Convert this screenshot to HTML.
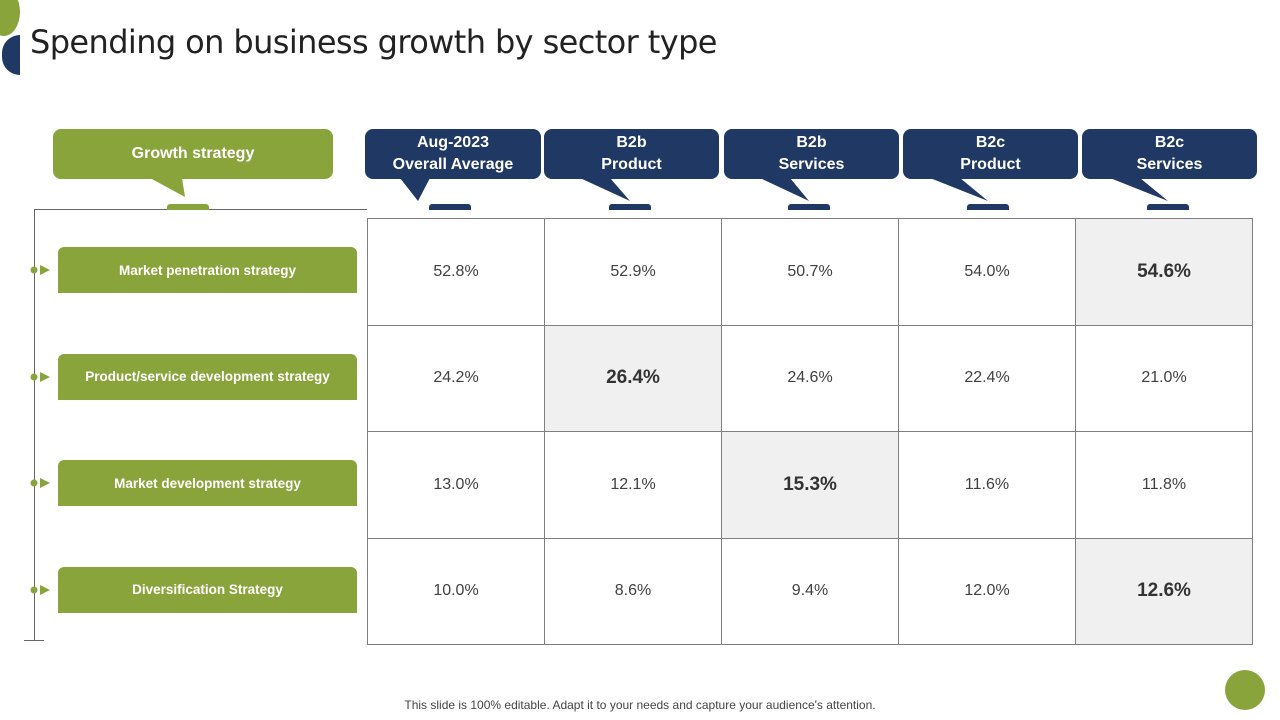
<!DOCTYPE html>
<html><head><meta charset="utf-8"><style>
body{margin:0;width:1280px;height:720px;background:#fff;position:relative;overflow:hidden;font-family:"Liberation Sans",sans-serif}
.a{position:absolute}
.hdr{position:absolute;top:129px;height:50px;border-radius:8px;color:#fff;font-weight:bold;font-size:16px;line-height:22px;display:flex;align-items:center;justify-content:center;text-align:center;font-family:"Liberation Sans",sans-serif}
.navy{background:#203864}.green{background:#8aa43c}
.tab{position:absolute;top:204px;width:42px;height:6px;border-radius:3px 3px 0 0}
.lbl{position:absolute;left:58px;width:299px;height:46px;background:#8aa43c;border-radius:6px 6px 0 0;color:#fff;font-weight:bold;font-size:13.5px;display:flex;align-items:center;justify-content:center;font-family:"Liberation Sans",sans-serif}
.cell{position:absolute;box-sizing:border-box;border:1px solid #7f7f7f;display:flex;align-items:center;justify-content:center;font-size:16px;color:#404040}
.cell.hl{background:#f0f0f0;font-weight:bold;font-size:19px;color:#333}
</style></head><body>
<div class="a" style="left:-12px;top:-12px;width:32px;height:48px;border-radius:50%;background:#8aa43c"></div>
<div class="a" style="left:2px;top:35px;width:18px;height:40px;border-radius:20px 0 0 20px;background:#203864"></div>
<div class="a" style="left:30px;top:23px;font-size:32px;color:#222;font-family:'DejaVu Sans','Liberation Sans',sans-serif;letter-spacing:-0.6px">Spending on business growth by sector type</div>

<svg class="a" style="left:0;top:0" width="1280" height="720">
<polygon points="150,178 182,178 185,197" fill="#8aa43c"/>
<polygon points="400,178 430,178 418,201" fill="#203864"/>
<polygon points="580,178 610,178 630,201" fill="#203864"/>
<polygon points="760,178 790,178 809,201" fill="#203864"/>
<polygon points="930,178 960,178 988,201" fill="#203864"/>
<polygon points="1110,178 1140,178 1168,201" fill="#203864"/>
<line x1="34" y1="209.5" x2="367" y2="209.5" stroke="#666"/>
<line x1="34.5" y1="209" x2="34.5" y2="640" stroke="#666"/>
<line x1="24" y1="640.5" x2="44" y2="640.5" stroke="#666"/>
</svg>

<div class="hdr green" style="left:53px;width:280px">Growth strategy</div>
<div class="tab green" style="left:167px"></div>
<div id="hdrs"></div>
<div id="rows"></div>
<div id="grid"></div>

<div class="a" style="left:0;width:1280px;top:698px;text-align:center;font-size:12px;color:#444">This slide is 100% editable. Adapt it to your needs and capture your audience's attention.</div>
<div class="a" style="left:1225px;top:670px;width:40px;height:40px;border-radius:50%;background:#8aa43c"></div>

<script>
const columns=["Aug-2023<br>Overall Average","B2b<br>Product","B2b<br>Services","B2c<br>Product","B2c<br>Services"];
const strategies=["Market penetration strategy","Product/service development strategy","Market development strategy","Diversification Strategy"];
const overall=[52.8,24.2,13.0,10.0];
const b2bProduct=[52.9,26.4,12.1,8.6];
const b2bServices=[50.7,24.6,15.3,9.4];
const b2cProduct=[54.0,22.4,11.6,12.0];
const b2cServices=[54.6,21.0,11.8,12.6];
const highlightCol=[4,1,2,4];
const series=[overall,b2bProduct,b2bServices,b2cProduct,b2cServices];

const hx=[365,544,724,903,1082],hw=[176,175,175,175,175],tx=[429,609,788,967,1147];
const H=document.getElementById('hdrs');
columns.forEach((c,i)=>{
 const d=document.createElement('div');d.className='hdr navy';
 
 
 d.style.left=hx[i]+'px';d.style.width=hw[i]+'px';d.innerHTML=c;H.appendChild(d);
 const t=document.createElement('div');t.className='tab navy';
 
 
 t.style.left=tx[i]+'px';H.appendChild(t);
});
const x0=367,cw=177,y0=218,rh=106.5;
const R=document.getElementById('rows'),G=document.getElementById('grid');
strategies.forEach((s,r)=>{
 const cy=y0+rh*r+rh/2;
 const l=document.createElement('div');l.className='lbl';
 
 
 l.style.top=(cy-24)+'px';l.textContent=s;R.appendChild(l);
 const m=document.createElementNS('http://www.w3.org/2000/svg','svg');
 
 
 m.setAttribute('width','24');m.setAttribute('height','16');
 m.style.position='absolute';m.style.left='28px';m.style.top=(cy-9)+'px';
 m.innerHTML='<circle cx="6" cy="8" r="3.5" fill="#8aa43c"/><polygon points="12,3 22,8 12,13" fill="#8aa43c"/>';
 R.appendChild(m);
 series.forEach((arr,c)=>{
  const d=document.createElement('div');
  d.className='cell'+(highlightCol[r]===c?' hl':'');
  
  
  d.style.left=(x0+cw*c)+'px';d.style.top=(y0+rh*r)+'px';
  d.style.width=(cw+1)+'px';d.style.height=(rh+1)+'px';
  d.textContent=arr[r].toFixed(1)+'%';G.appendChild(d);
 });
});
</script>
</body></html>
